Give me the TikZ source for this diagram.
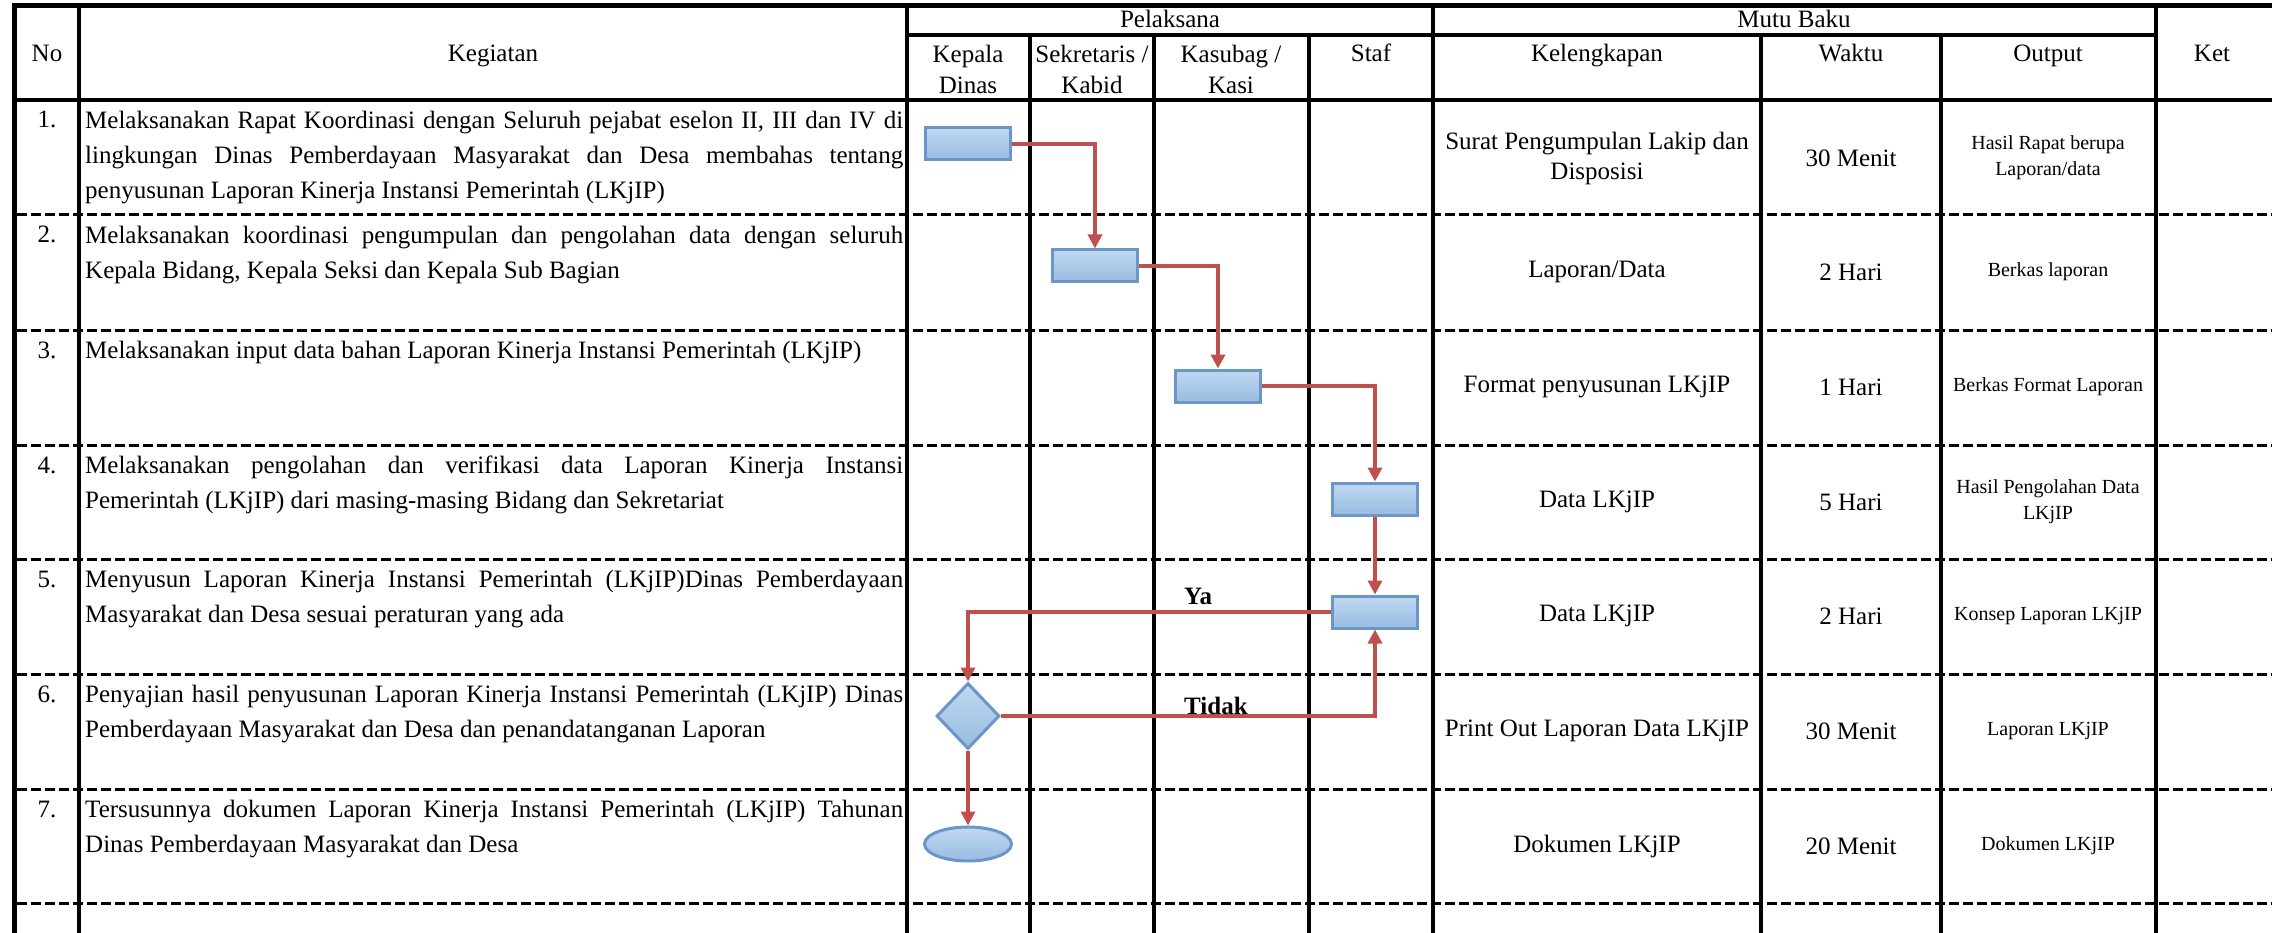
\documentclass[tikz,border=0pt]{standalone}
\usepackage{fontspec}
\setmainfont{Liberation Serif}
\usetikzlibrary{arrows.meta,shapes.geometric}

\definecolor{merah}{RGB}{192,80,77}
\definecolor{birugaris}{RGB}{108,150,200}
\definecolor{biruterang}{RGB}{192,216,241}
\definecolor{birugelap}{RGB}{152,188,225}

\begin{document}
\begin{tikzpicture}[x=1pt, y=-1pt,
        proses/.style={rectangle, minimum width=85pt, minimum height=32pt},
        keputusan/.style={diamond, minimum width=63pt, minimum height=66pt},
        terminal/.style={ellipse, minimum width=87pt, minimum height=34pt},
        siku/.style={to path={-| (\tikztotarget)}},
        garis/.style={line width=3.5pt},
        putus/.style={line width=3pt, dash pattern=on 10pt off 4pt}]
    \useasboundingbox (0,0) rectangle (2272,933);

    % garis tabel
    \begin{scope}
        \draw[line width=5pt] (12,5.5) -- (2272,5.5);
        \draw[line width=5pt] (14.5,3) -- (14.5,933);
        \draw[garis] (12,100) -- (2272,100);
        \draw[garis] (907,35) -- (2156,35);
        \draw[garis] (79,5.5) -- (79,933);
        \draw[garis] (907,5.5) -- (907,933);
        \draw[garis] (1030,35) -- (1030,933);
        \draw[garis] (1154,35) -- (1154,933);
        \draw[garis] (1309,35) -- (1309,933);
        \draw[garis] (1433,5.5) -- (1433,933);
        \draw[garis] (1761,35) -- (1761,933);
        \draw[garis] (1941,35) -- (1941,933);
        \draw[garis] (2156,5.5) -- (2156,933);
        \draw[putus] (17,215) -- (2272,215);
        \draw[putus] (17,330) -- (2272,330);
        \draw[putus] (17,445) -- (2272,445);
        \draw[putus] (17,559) -- (2272,559);
        \draw[putus] (17,674) -- (2272,674);
        \draw[putus] (17,789) -- (2272,789);
        \draw[putus] (17,903) -- (2272,903);
    \end{scope}

    % judul kolom
    \begin{scope}
        \tikzstyle{every node}=[inner sep=0pt, font=\fontsize{25}{31}\selectfont]
        \node[anchor=base] (hNo) at (47,62) {No};
        \node[anchor=base] (hKegiatan) at (493,62) {Kegiatan};
        \node[anchor=base] (hPelaksana) at (1170,28) {Pelaksana};
        \node[anchor=base] (hMutu) at (1794,28) {Mutu Baku};
        \node[anchor=north, align=center] (hKadis) at (968,45) {Kepala\\Dinas};
        \node[anchor=north, align=center] (hSekre) at (1092,45) {Sekretaris /\\Kabid};
        \node[anchor=north, align=center] (hKasubag) at (1231,45) {Kasubag /\\Kasi};
        \node[anchor=base] (hStaf) at (1371,62) {Staf};
        \node[anchor=base] (hLengkap) at (1597,62) {Kelengkapan};
        \node[anchor=base] (hWaktu) at (1851,62) {Waktu};
        \node[anchor=base] (hOutput) at (2048,62) {Output};
        \node[anchor=base] (hKet) at (2212,62) {Ket};
    \end{scope}

    % nomor dan uraian kegiatan
    \begin{scope}
        \tikzstyle{every node}=[inner sep=0pt, font={\fontsize{25}{35}\selectfont\tolerance=10000 \hyphenpenalty=10000}]
        \node[anchor=base] (n1) at (47,128) {1.};
        \node[anchor=base] (n2) at (47,243) {2.};
        \node[anchor=base] (n3) at (47,358) {3.};
        \node[anchor=base] (n4) at (47,473) {4.};
        \node[anchor=base] (n5) at (47,587) {5.};
        \node[anchor=base] (n6) at (47,702) {6.};
        \node[anchor=base] (n7) at (47,817) {7.};
        \tikzstyle{every node}+=[anchor=north west, text width=818pt, align=justify]
        \node (k1) at (85,111) {\noindent Melaksanakan Rapat Koordinasi dengan Seluruh pejabat eselon II, III dan IV di\linebreak lingkungan Dinas Pemberdayaan Masyarakat dan Desa membahas tentang\linebreak penyusunan Laporan Kinerja Instansi Pemerintah (LKjIP)};
        \node (k2) at (85,226) {\noindent Melaksanakan koordinasi pengumpulan dan pengolahan data dengan seluruh\linebreak Kepala Bidang, Kepala Seksi dan Kepala Sub Bagian};
        \node (k3) at (85,341) {\noindent Melaksanakan input data bahan Laporan Kinerja Instansi Pemerintah (LKjIP)};
        \node (k4) at (85,456) {\noindent Melaksanakan pengolahan dan verifikasi data Laporan Kinerja Instansi\linebreak Pemerintah (LKjIP) dari masing-masing Bidang dan Sekretariat};
        \node (k5) at (85,570) {\noindent Menyusun Laporan Kinerja Instansi Pemerintah (LKjIP)Dinas Pemberdayaan\linebreak Masyarakat dan Desa sesuai peraturan yang ada};
        \node (k6) at (85,685) {\noindent Penyajian hasil penyusunan Laporan Kinerja Instansi Pemerintah (LKjIP) Dinas\linebreak Pemberdayaan Masyarakat dan Desa dan penandatanganan Laporan};
        \node (k7) at (85,800) {\noindent Tersusunnya dokumen Laporan Kinerja Instansi Pemerintah (LKjIP) Tahunan\linebreak Dinas Pemberdayaan Masyarakat dan Desa};
    \end{scope}

    % mutu baku: kelengkapan dan waktu
    \begin{scope}
        \tikzstyle{every node}=[inner sep=0pt, align=center, font=\fontsize{25}{30}\selectfont]
        \node (l1) at (1597,158) {Surat Pengumpulan Lakip dan\\Disposisi};
        \node (l2) at (1597,272) {Laporan/Data};
        \node (l3) at (1597,387) {Format penyusunan LKjIP};
        \node (l4) at (1597,502) {Data LKjIP};
        \node (l5) at (1597,616) {Data LKjIP};
        \node (l6) at (1597,731) {Print Out Laporan Data LKjIP};
        \node (l7) at (1597,846) {Dokumen LKjIP};
        \node (w1) at (1851,158) {30 Menit};
        \node (w2) at (1851,272) {2 Hari};
        \node (w3) at (1851,387) {1 Hari};
        \node (w4) at (1851,502) {5 Hari};
        \node (w5) at (1851,616) {2 Hari};
        \node (w6) at (1851,731) {30 Menit};
        \node (w7) at (1851,846) {20 Menit};
    \end{scope}

    % mutu baku: output
    \begin{scope}
        \tikzstyle{every node}=[inner sep=0pt, align=center, font=\fontsize{20}{26}\selectfont]
        \node (o1) at (2048,158) {Hasil Rapat berupa\\Laporan/data};
        \node (o2) at (2048,272) {Berkas laporan};
        \node (o3) at (2048,387) {Berkas Format Laporan};
        \node (o4) at (2048,502) {Hasil Pengolahan Data\\LKjIP};
        \node (o5) at (2048,616) {Konsep Laporan LKjIP};
        \node (o6) at (2048,731) {Laporan LKjIP};
        \node (o7) at (2048,846) {Dokumen LKjIP};
    \end{scope}

    % bagan alir
    \begin{scope}
        \tikzstyle{every node}=[draw=birugaris, line width=3pt, top color=biruterang, bottom color=birugelap, inner sep=0pt]
        \node[proses] (b1) at (968,144) {};
        \node[proses] (b2) at (1095,266) {};
        \node[proses] (b3) at (1218,386) {};
        \node[proses] (b4) at (1375,499) {};
        \node[proses] (b5) at (1375,612) {};
        \node[keputusan] (d6) at (968,716) {};
        \node[terminal] (e7) at (968,844) {};
    \end{scope}
    \begin{scope}
        \tikzstyle{every edge}=[draw=merah, line width=4.5pt, -{Triangle[width=14pt,length=14pt]}]
        \path
        (b1.east) edge[siku] (b2.north)
        (b2.east) edge[siku] (b3.north)
        (b3.east) edge[siku] (b4.north)
        (b4.south) edge (b5.north)
        (b5.west) edge[siku] (d6.north)
        (d6.east) edge[siku] (b5.south)
        (d6.south) edge (e7.north)
        ;
    \end{scope}
    \begin{scope}
        \tikzstyle{every node}=[inner sep=0pt, anchor=base west, font=\fontsize{25}{30}\selectfont\bfseries]
        \node (ya) at (1184,604) {Ya};
        \node (tidak) at (1184,714) {Tidak};
    \end{scope}
\end{tikzpicture}
\end{document}
